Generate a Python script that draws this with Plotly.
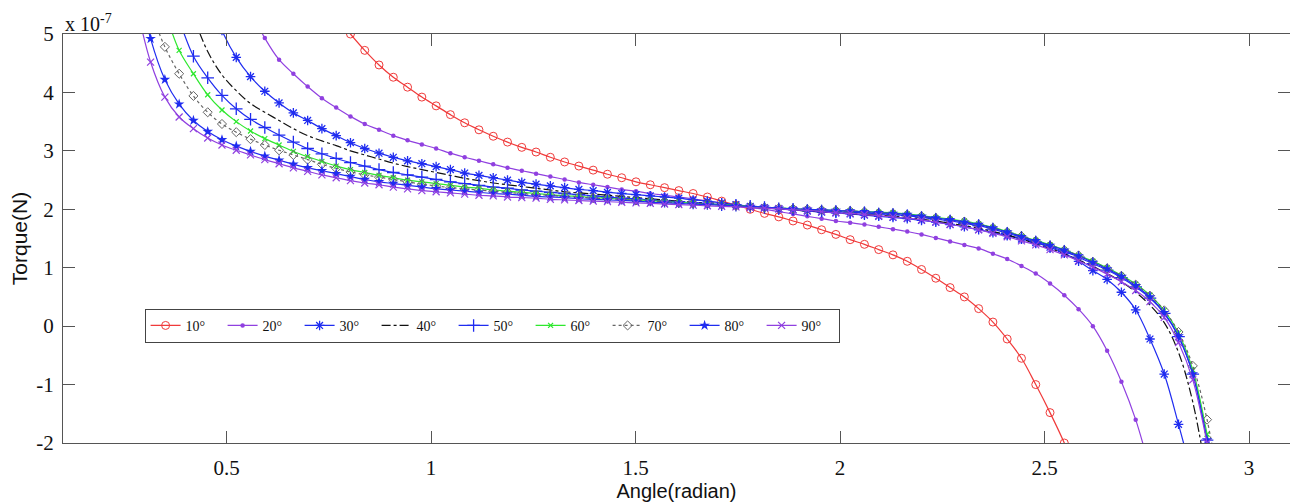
import math
import plotly.graph_objects as go

ANGLE_DEG = [14, 16, 18, 20, 22, 24, 26, 28, 30, 32, 34, 36, 38, 40, 42, 44, 46, 48, 50,
             52, 54, 56, 58, 60, 62, 64, 66, 68, 70, 72, 74, 76, 78, 80, 82, 84, 86, 88,
             90, 92, 94, 96, 98, 100, 102, 104, 106, 108, 110, 112, 114, 116, 118, 120,
             122, 124, 126, 128, 130, 132, 134, 136, 138, 140, 142, 144, 146, 148, 150,
             152, 154, 156, 158, 160, 162, 164, 166, 168]

SERIES_NAMES = ["10°", "20°", "30°", "40°", "50°", "60°", "70°", "80°", "90°"]
START_DEG = [44, 32, 26, 24, 22, 20, 18, 16, 16]

# Torque values in units of 1e-7 N
TORQUE_10 = [5.30, 5.00, 4.72, 4.47, 4.26, 4.09, 3.92, 3.77, 3.62, 3.48, 3.36, 3.25, 3.15,
             3.06, 2.98, 2.89, 2.81, 2.74, 2.67, 2.60, 2.54, 2.47, 2.42, 2.37, 2.32, 2.27,
             2.21, 2.14, 2.07, 2.00, 1.93, 1.87, 1.80, 1.73, 1.65, 1.57, 1.48, 1.40, 1.31,
             1.22, 1.11, 0.97, 0.82, 0.66, 0.50, 0.30, 0.07, -0.22, -0.55, -1.00, -1.48,
             -2.00, -2.60]
TORQUE_20 = [5.40, 4.93, 4.56, 4.32, 4.10, 3.90, 3.74, 3.59, 3.46, 3.36, 3.26, 3.18, 3.11,
             3.04, 2.96, 2.89, 2.83, 2.77, 2.71, 2.66, 2.61, 2.56, 2.51, 2.46, 2.42, 2.38,
             2.34, 2.31, 2.27, 2.24, 2.21, 2.18, 2.14, 2.11, 2.07, 2.03, 2.00, 1.96, 1.92,
             1.88, 1.84, 1.80, 1.77, 1.74, 1.70, 1.66, 1.62, 1.57, 1.51, 1.45, 1.39, 1.33,
             1.24, 1.15, 1.03, 0.90, 0.73, 0.53, 0.29, 0.00, -0.42, -0.95, -1.60, -2.45]
TORQUE_30 = [5.75, 5.06, 4.60, 4.27, 4.02, 3.82, 3.65, 3.52, 3.38, 3.26, 3.14, 3.04, 2.96,
             2.89, 2.83, 2.78, 2.73, 2.68, 2.62, 2.58, 2.54, 2.50, 2.46, 2.43, 2.40, 2.37,
             2.34, 2.32, 2.29, 2.27, 2.25, 2.23, 2.21, 2.19, 2.16, 2.14, 2.11, 2.08, 2.05,
             2.03, 2.01, 1.99, 1.97, 1.95, 1.94, 1.92, 1.90, 1.88, 1.86, 1.84, 1.81, 1.78,
             1.74, 1.70, 1.65, 1.60, 1.55, 1.49, 1.43, 1.35, 1.25, 1.11, 0.95, 0.80, 0.58,
             0.28, -0.22, -0.82, -1.68, -2.60]
TORQUE_40 = [5.30, 4.70, 4.30, 4.03, 3.81, 3.66, 3.52, 3.38, 3.26, 3.17, 3.09, 3.00, 2.93,
             2.86, 2.79, 2.73, 2.68, 2.63, 2.58, 2.53, 2.49, 2.45, 2.42, 2.39, 2.36, 2.33,
             2.30, 2.28, 2.26, 2.24, 2.22, 2.20, 2.18, 2.16, 2.14, 2.12, 2.11, 2.09, 2.07,
             2.05, 2.03, 2.01, 1.99, 1.97, 1.96, 1.94, 1.93, 1.91, 1.90, 1.88, 1.86, 1.83,
             1.80, 1.76, 1.72, 1.68, 1.62, 1.56, 1.49, 1.41, 1.33, 1.24, 1.13, 1.02, 0.90,
             0.76, 0.58, 0.36, 0.06, -0.45, -1.30, -2.60]
TORQUE_50 = [5.25, 4.62, 4.25, 3.95, 3.72, 3.54, 3.40, 3.27, 3.15, 3.04, 2.95, 2.87, 2.80,
             2.74, 2.68, 2.63, 2.59, 2.55, 2.51, 2.47, 2.44, 2.41, 2.38, 2.36, 2.33, 2.31,
             2.29, 2.27, 2.25, 2.23, 2.21, 2.19, 2.18, 2.16, 2.14, 2.13, 2.11, 2.10, 2.08,
             2.07, 2.05, 2.03, 2.01, 2.00, 1.98, 1.97, 1.96, 1.95, 1.94, 1.92, 1.91, 1.89,
             1.86, 1.83, 1.80, 1.76, 1.72, 1.66, 1.59, 1.52, 1.44, 1.36, 1.28, 1.18, 1.07,
             0.96, 0.83, 0.67, 0.48, 0.22, -0.18, -0.82, -1.95, -3.30]
TORQUE_60 = [5.40, 4.72, 4.32, 3.96, 3.70, 3.50, 3.34, 3.21, 3.10, 2.99, 2.90, 2.82, 2.74,
             2.68, 2.63, 2.58, 2.54, 2.50, 2.47, 2.44, 2.41, 2.38, 2.36, 2.33, 2.31, 2.29,
             2.27, 2.25, 2.23, 2.22, 2.20, 2.19, 2.17, 2.16, 2.15, 2.13, 2.12, 2.10, 2.09,
             2.08, 2.07, 2.05, 2.03, 2.02, 2.01, 2.00, 1.99, 1.98, 1.97, 1.96, 1.95, 1.94,
             1.92, 1.89, 1.86, 1.83, 1.80, 1.75, 1.69, 1.62, 1.54, 1.47, 1.39, 1.31, 1.21,
             1.11, 1.00, 0.87, 0.72, 0.53, 0.27, -0.12, -0.75, -1.85, -3.20]
TORQUE_70 = [5.40, 4.78, 4.32, 3.94, 3.66, 3.46, 3.32, 3.20, 3.10, 3.01, 2.93, 2.85, 2.77,
             2.70, 2.64, 2.59, 2.55, 2.51, 2.47, 2.43, 2.40, 2.37, 2.35, 2.33, 2.31, 2.29,
             2.27, 2.25, 2.24, 2.22, 2.21, 2.19, 2.18, 2.17, 2.15, 2.14, 2.13, 2.11, 2.10,
             2.09, 2.08, 2.06, 2.05, 2.03, 2.02, 2.01, 2.00, 1.99, 1.98, 1.97, 1.96, 1.94,
             1.93, 1.91, 1.88, 1.85, 1.82, 1.79, 1.74, 1.68, 1.61, 1.54, 1.46, 1.38, 1.30,
             1.21, 1.10, 0.99, 0.86, 0.71, 0.52, 0.27, -0.10, -0.68, -1.60, -3.00]
TORQUE_80 = [6.00, 4.92, 4.22, 3.80, 3.52, 3.33, 3.19, 3.08, 2.99, 2.91, 2.84, 2.77, 2.71,
             2.66, 2.61, 2.56, 2.51, 2.47, 2.44, 2.41, 2.38, 2.35, 2.33, 2.31, 2.29, 2.27,
             2.26, 2.24, 2.22, 2.21, 2.20, 2.18, 2.17, 2.16, 2.15, 2.14, 2.12, 2.11, 2.10,
             2.09, 2.08, 2.07, 2.06, 2.05, 2.04, 2.02, 2.01, 2.00, 1.99, 1.98, 1.97, 1.96,
             1.94, 1.93, 1.91, 1.88, 1.85, 1.82, 1.78, 1.74, 1.68, 1.61, 1.53, 1.46, 1.38,
             1.30, 1.20, 1.09, 0.98, 0.85, 0.69, 0.50, 0.23, -0.17, -0.82, -1.95, -3.30]
TORQUE_90 = [5.50, 4.52, 3.92, 3.58, 3.38, 3.22, 3.10, 3.01, 2.93, 2.85, 2.78, 2.71, 2.65,
             2.59, 2.54, 2.49, 2.45, 2.42, 2.38, 2.35, 2.32, 2.30, 2.28, 2.26, 2.24, 2.23,
             2.21, 2.20, 2.19, 2.17, 2.16, 2.15, 2.14, 2.13, 2.12, 2.11, 2.10, 2.09, 2.08,
             2.07, 2.06, 2.05, 2.04, 2.03, 2.02, 2.01, 1.99, 1.98, 1.96, 1.94, 1.93, 1.91,
             1.89, 1.87, 1.85, 1.82, 1.78, 1.74, 1.70, 1.65, 1.59, 1.53, 1.46, 1.39, 1.31,
             1.22, 1.12, 1.01, 0.89, 0.76, 0.61, 0.42, 0.15, -0.28, -0.92, -2.00, -3.30]

TORQUE = [TORQUE_10, TORQUE_20, TORQUE_30, TORQUE_40, TORQUE_50,
          TORQUE_60, TORQUE_70, TORQUE_80, TORQUE_90]

X_TICKS = [0.5, 1, 1.5, 2, 2.5, 3]
X_TICK_TEXT = ["0.5", "1", "1.5", "2", "2.5", "3"]
Y_TICKS = [-2, -1, 0, 1, 2, 3, 4, 5]
Y_TICK_TEXT = ["-2", "-1", "0", "1", "2", "3", "4", "5"]

RED = "#f03a3a"
PURPLE = "#9040e0"
BLUE = "#1f2cf0"
GREEN = "#2ee82e"
GRAY = "#666666"

STYLES = [
    dict(line=dict(color=RED, width=1.2),
         marker=dict(symbol="circle-open", size=8, color=RED, line=dict(width=1, color=RED))),
    dict(line=dict(color=PURPLE, width=1.2),
         marker=dict(symbol="circle", size=4.5, color=PURPLE)),
    dict(line=dict(color=BLUE, width=1.2),
         marker=dict(symbol="asterisk-open", size=8, color=BLUE, line=dict(width=1.3, color=BLUE))),
    dict(line=dict(color="#111111", width=1.2, dash="dashdot"), mode="lines"),
    dict(line=dict(color=BLUE, width=1.2),
         marker=dict(symbol="cross-thin-open", size=9, color=BLUE, line=dict(width=1.3, color=BLUE))),
    dict(line=dict(color=GREEN, width=1.2),
         marker=dict(symbol="x-thin-open", size=5, color=GREEN, line=dict(width=1.2, color=GREEN))),
    dict(line=dict(color=GRAY, width=1.2, dash="dot"),
         marker=dict(symbol="diamond-open", size=7, color=GRAY, line=dict(width=1, color=GRAY))),
    dict(line=dict(color=BLUE, width=1.2),
         marker=dict(symbol="star", size=8, color=BLUE)),
    dict(line=dict(color=PURPLE, width=1.2),
         marker=dict(symbol="x-thin-open", size=7, color=PURPLE, line=dict(width=1.2, color=PURPLE))),
]

fig = go.Figure()
for name, start, vals, st in zip(SERIES_NAMES, START_DEG, TORQUE, STYLES):
    i0 = ANGLE_DEG.index(start)
    degs = ANGLE_DEG[i0:i0 + len(vals)]
    xs = [math.radians(d) for d in degs]
    kw = dict(st)
    mode = kw.pop("mode", "lines+markers")
    fig.add_trace(go.Scatter(x=xs, y=vals, name=name, mode=mode,
                             line_shape="spline", **kw))

axis_common = dict(
    showline=True, linecolor="#555555", linewidth=1.3, mirror="ticks",
    ticks="inside", ticklen=12, tickwidth=1.3, tickcolor="#555555",
    showgrid=False, zeroline=False,
    tickfont=dict(family="Liberation Serif", size=21, color="#111111"),
)

fig.update_xaxes(range=[0.1, 3.1], tickvals=X_TICKS, ticktext=X_TICK_TEXT,
                 ticklabelstandoff=6,
                 title=dict(text="Angle(radian)", font=dict(family="Liberation Sans", size=20, color="#111111"),
                            standoff=2),
                 **axis_common)
fig.update_yaxes(range=[-2, 5], tickvals=Y_TICKS, ticktext=Y_TICK_TEXT, ticklabelstandoff=4,
                 title=dict(text="Torque(N)", font=dict(family="Liberation Sans", size=21, color="#111111"),
                            standoff=6),
                 **axis_common)

fig.add_annotation(text="x 10<sup>-7</sup>", xref="paper", yref="paper", x=0.0, y=1.0,
                   xanchor="left", yanchor="bottom", yshift=-3, showarrow=False,
                   font=dict(family="Liberation Serif", size=20, color="#111111"))

# the page body adds an 8 px margin, so the figure is drawn 8 px smaller
fig.update_layout(
    width=1290, height=495,
    margin=dict(l=53, r=7, t=26, b=56),
    plot_bgcolor="white", paper_bgcolor="white",
    legend=dict(orientation="h", x=0.0665, y=0.328, xanchor="left", yanchor="top",
                bordercolor="#444444", borderwidth=1, bgcolor="white",
                font=dict(family="Liberation Serif", size=14, color="#111111"),
                entrywidth=32, entrywidthmode="pixels", tracegroupgap=0,
                itemwidth=30),
    showlegend=True,
)

fig.write_html("out.html")
